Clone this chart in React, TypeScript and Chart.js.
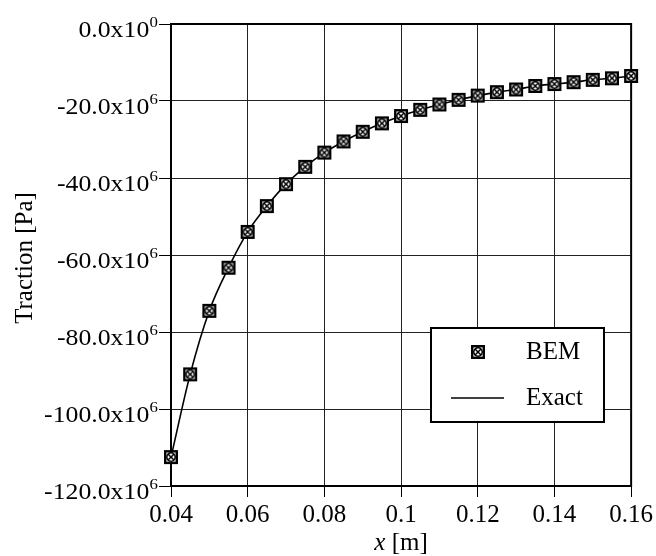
import React, { useEffect, useRef } from "react";
import { Chart, registerables } from "chart.js";

Chart.register(...registerables);

const xValues = [
  0.04, 0.045, 0.05, 0.055, 0.06, 0.065, 0.07, 0.075, 0.08, 0.085, 0.09, 0.095,
  0.1, 0.105, 0.11, 0.115, 0.12, 0.125, 0.13, 0.135, 0.14, 0.145, 0.15, 0.155, 0.16,
];
// Traction in units of 10^6 Pa
const bemValues = [
  -112.5, -91.0, -74.5, -63.3, -54.0, -47.3, -41.6, -37.1, -33.4, -30.5, -28.0, -25.8,
  -23.9, -22.3, -20.9, -19.7, -18.6, -17.7, -17.0, -16.1, -15.6, -15.1, -14.5, -14.1, -13.5,
];
const exactValues = [
  -112.5, -91.0, -74.5, -63.3, -54.0, -47.3, -41.6, -37.1, -33.4, -30.5, -28.0, -25.8,
  -23.9, -22.3, -20.9, -19.7, -18.6, -17.7, -17.0, -16.1, -15.6, -15.1, -14.5, -14.1, -13.5,
];
const xTickValues = [0.04, 0.06, 0.08, 0.1, 0.12, 0.14, 0.16];
const xTickLabels = ["0.04", "0.06", "0.08", "0.1", "0.12", "0.14", "0.16"];
const yTickValues = [-120, -100, -80, -60, -40, -20, 0];
const yTickMain = ["-120.0x10", "-100.0x10", "-80.0x10", "-60.0x10", "-40.0x10", "-20.0x10", "0.0x10"];
const yTickExp = ["6", "6", "6", "6", "6", "6", "0"];
const seriesLabels = ["BEM", "Exact"];
const yTitle = "Traction [Pa]";
const xTitleVar = "x";
const xTitleUnit = " [m]";

const SERIF = '"Liberation Serif", "Times New Roman", serif';

function makeMarker(): HTMLCanvasElement {
  const c = document.createElement("canvas");
  c.width = 16;
  c.height = 16;
  const g = c.getContext("2d")!;
  g.fillStyle = "#fff";
  g.fillRect(1, 1, 14, 14);
  g.strokeStyle = "#000";
  g.lineWidth = 2.4;
  g.strokeRect(2.2, 2.2, 11.6, 11.6);
  g.lineWidth = 1.5;
  g.beginPath();
  g.arc(8, 8, 4.2, 0, Math.PI * 2);
  g.stroke();
  g.beginPath();
  g.moveTo(5, 5);
  g.lineTo(11, 11);
  g.moveTo(11, 5);
  g.lineTo(5, 11);
  g.stroke();
  return c;
}

export default function App() {
  const ref = useRef<HTMLCanvasElement | null>(null);

  useEffect(() => {
    const canvas = ref.current;
    if (!canvas) return;
    const marker = makeMarker();

    const decor = {
      id: "decor",
      beforeDatasetsDraw(chart: any) {
        const { ctx, chartArea: a } = chart;
        ctx.save();
        ctx.strokeStyle = "#000";
        ctx.lineWidth = 2;
        ctx.strokeRect(a.left, a.top, a.right - a.left, a.bottom - a.top);
        ctx.restore();
      },
      afterDraw(chart: any) {
        const { ctx, chartArea: a } = chart;
        const ys = chart.scales.y;
        ctx.save();
        ctx.fillStyle = "#000";
        // y tick labels with superscripts
        const sx = 1.12;
        yTickValues.forEach((v, i) => {
          const py = ys.getPixelForValue(v);
          ctx.save();
          ctx.translate(158, 0);
          ctx.scale(sx, 1);
          ctx.font = "15px " + SERIF;
          const supW = ctx.measureText(yTickExp[i]).width;
          ctx.textAlign = "right";
          ctx.textBaseline = "alphabetic";
          ctx.fillText(yTickExp[i], 0, py + 2.5);
          ctx.font = "23px " + SERIF;
          ctx.fillText(yTickMain[i], -supW - 0.3, py + 13);
          ctx.restore();
        });
        // y title
        ctx.save();
        ctx.translate(32, (a.top + a.bottom) / 2 + 3);
        ctx.rotate(-Math.PI / 2);
        ctx.font = "25px " + SERIF;
        ctx.textAlign = "center";
        ctx.textBaseline = "alphabetic";
        ctx.fillText(yTitle, 0, 0);
        ctx.restore();
        // x title
        ctx.font = "italic 25px " + SERIF;
        const w1 = ctx.measureText(xTitleVar).width;
        ctx.font = "25px " + SERIF;
        const w2 = ctx.measureText(xTitleUnit).width;
        const cx = (a.left + a.right) / 2;
        const x0 = cx - (w1 + w2) / 2;
        ctx.textAlign = "left";
        ctx.textBaseline = "alphabetic";
        ctx.font = "italic 25px " + SERIF;
        ctx.fillText(xTitleVar, x0, 550);
        ctx.font = "25px " + SERIF;
        ctx.fillText(xTitleUnit, x0 + w1, 550);
        // legend
        const lx = 431, ly = 328, lw = 173, lh = 94;
        ctx.fillStyle = "#fff";
        ctx.fillRect(lx, ly, lw, lh);
        ctx.strokeStyle = "#000";
        ctx.lineWidth = 2;
        ctx.strokeRect(lx, ly, lw, lh);
        ctx.drawImage(marker, 478 - 8, 352 - 8);
        ctx.lineWidth = 1.6;
        ctx.beginPath();
        ctx.moveTo(451, 398);
        ctx.lineTo(504, 398);
        ctx.stroke();
        ctx.fillStyle = "#000";
        ctx.font = "25px " + SERIF;
        ctx.textAlign = "left";
        ctx.textBaseline = "middle";
        ctx.fillText(seriesLabels[0], 526, 352);
        ctx.fillText(seriesLabels[1], 526, 398);
        ctx.restore();
      },
    };

    const chart = new Chart(canvas, {
      type: "line",
      data: {
        datasets: [
          {
            label: seriesLabels[0],
            data: xValues.map((x, i) => ({ x, y: bemValues[i] })),
            showLine: false,
            pointStyle: marker as any,
            pointRadius: 8,
            borderColor: "#000",
            backgroundColor: "#fff",
            clip: false as any,
          },
          {
            label: seriesLabels[1],
            data: xValues.map((x, i) => ({ x, y: exactValues[i] })),
            borderColor: "#000",
            borderWidth: 1.6,
            pointRadius: 0,
            cubicInterpolationMode: "monotone",
            fill: false,
            clip: false as any,
          },
        ],
      },
      options: {
        responsive: false,
        animation: false,
        devicePixelRatio: 1,
        layout: { padding: { top: 24, right: 24, left: 0, bottom: 0 } },
        plugins: { legend: { display: false }, tooltip: { enabled: false } },
        scales: {
          x: {
            type: "linear",
            min: 0.04,
            max: 0.16,
            afterBuildTicks: (s: any) => {
              s.ticks = xTickValues.map((v) => ({ value: v }));
            },
            afterFit: (s: any) => {
              s.height = 70;
            },
            ticks: {
              autoSkip: false,
              maxRotation: 0,
              color: "#000",
              padding: 3,
              font: { family: SERIF, size: 25 },
              callback: (v: any) => {
                const i = xTickValues.findIndex((t) => Math.abs(t - v) < 1e-9);
                return i >= 0 ? xTickLabels[i] : "";
              },
            },
            grid: { color: "#222", lineWidth: 1, tickLength: 11, tickColor: "#000" },
            border: { display: true, color: "#000", width: 2 },
          },
          y: {
            type: "linear",
            min: -120,
            max: 0,
            afterBuildTicks: (s: any) => {
              s.ticks = yTickValues.map((v) => ({ value: v }));
            },
            afterFit: (s: any) => {
              s.width = 171;
            },
            ticks: { display: false },
            grid: { color: "#222", lineWidth: 1, tickLength: 12, tickColor: "#000" },
            border: { display: true, color: "#000", width: 2 },
          },
        },
      },
      plugins: [decor],
    } as any);

    return () => chart.destroy();
  }, []);

  return (
    <div style={{ position: "fixed", left: 0, top: 0, width: 656, height: 556, background: "#fff" }}>
      <canvas ref={ref} width={656} height={556} style={{ width: 656, height: 556 }} />
    </div>
  );
}
